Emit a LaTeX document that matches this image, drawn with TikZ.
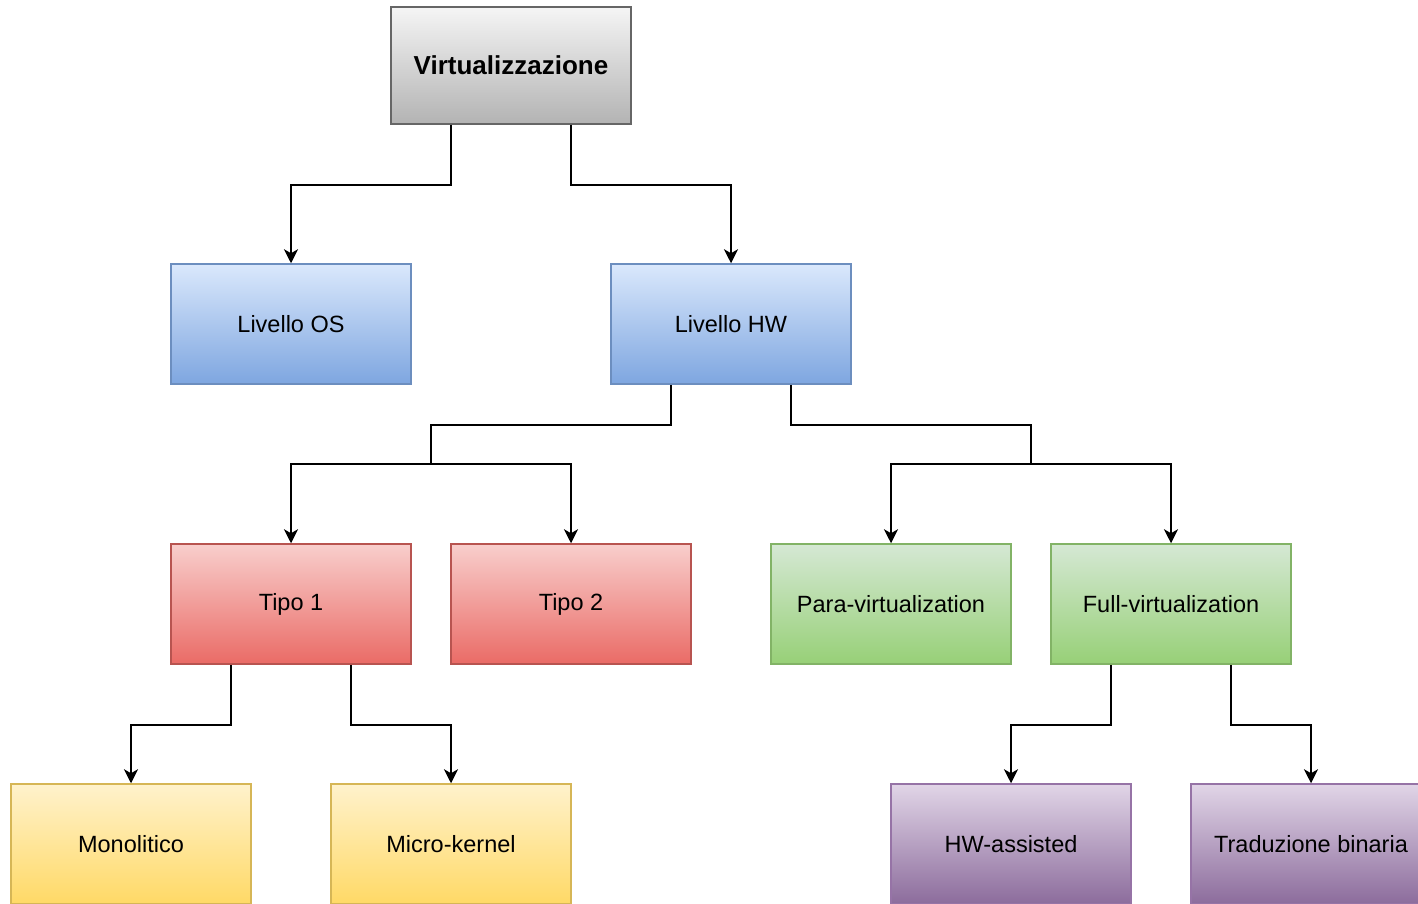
\documentclass[tikz,border=0pt]{standalone}
\usepackage{fontspec}
\setmainfont{Liberation Sans}
\usetikzlibrary{arrows.meta,calc}

\definecolor{grayTop}{HTML}{F5F5F5}
\definecolor{grayBot}{HTML}{B3B3B3}
\definecolor{grayLine}{HTML}{666666}
\definecolor{blueTop}{HTML}{DAE8FC}
\definecolor{blueBot}{HTML}{7EA6E0}
\definecolor{blueLine}{HTML}{6C8EBF}
\definecolor{redTop}{HTML}{F8CECC}
\definecolor{redBot}{HTML}{EA6B66}
\definecolor{redLine}{HTML}{B85450}
\definecolor{greenTop}{HTML}{D5E8D4}
\definecolor{greenBot}{HTML}{97D077}
\definecolor{greenLine}{HTML}{82B366}
\definecolor{yellowTop}{HTML}{FFF2CC}
\definecolor{yellowBot}{HTML}{FFD966}
\definecolor{yellowLine}{HTML}{D6B656}
\definecolor{purpleTop}{HTML}{E1D5E7}
\definecolor{purpleBot}{HTML}{8C6C9C}
\definecolor{purpleLine}{HTML}{9673A6}

\begin{document}
\begin{tikzpicture}[x=0.5pt, y=-0.5pt,
    box/.style={draw, line width=0.75pt, minimum width=120pt, minimum height=60pt,
        inner sep=0pt, font=\fontsize{11.75}{14}\selectfont},
    graybox/.style={box, draw=grayLine, top color=grayTop, bottom color=grayBot},
    bluebox/.style={box, draw=blueLine, top color=blueTop, bottom color=blueBot},
    redbox/.style={box, draw=redLine, top color=redTop, bottom color=redBot},
    greenbox/.style={box, draw=greenLine, top color=greenTop, bottom color=greenBot},
    yellowbox/.style={box, draw=yellowLine, top color=yellowTop, bottom color=yellowBot},
    purplebox/.style={box, draw=purpleLine, top color=purpleTop, bottom color=purpleBot},
    link/.style={line width=1pt, black},
    arr/.style={link, -{Stealth[length=7pt, width=7pt, inset=2pt]}}
]

    \useasboundingbox (0,0) rectangle (1418,904);
    \clip (0,0) rectangle (1418,904);

    % Root
    \node[graybox, minimum height=58.5pt, font=\fontsize{13}{15}\selectfont\bfseries] (virt) at (511,65.5) {Virtualizzazione};

    % Second level
    \node[bluebox] (os) at (291,324) {Livello OS};
    \node[bluebox] (hw) at (731,324) {Livello HW};

    % Third level
    \node[redbox] (t1) at (291,604) {Tipo 1};
    \node[redbox] (t2) at (571,604) {Tipo 2};
    \node[greenbox] (para) at (891,604) {Para-virtualization};
    \node[greenbox] (full) at (1171,604) {Full-virtualization};

    % Fourth level
    \node[yellowbox] (mono) at (131,844) {Monolitico};
    \node[yellowbox] (micro) at (451,844) {Micro-kernel};
    \node[purplebox] (hwa) at (1011,844) {HW-assisted};
    \node[purplebox] (trad) at (1311,844) {Traduzione binaria};

    % Junctions
    \coordinate (hyp) at (431,464);
    \coordinate (virtsw) at (1031,464);

    % Connectors
    \draw[arr] ($(virt.south)+(-60,0)$) -- ++(0,60) -| (os);
    \draw[arr] ($(virt.south)+(60,0)$) -- ++(0,60) -| (hw);

    \draw[link] ($(hw.south)+(-60,0)$) -- ++(0,40) -| (hyp);
    \draw[arr] (hyp) -| (t1);
    \draw[arr] (hyp) -| (t2);

    \draw[link] ($(hw.south)+(60,0)$) -- ++(0,40) -| (virtsw);
    \draw[arr] (virtsw) -| (para);
    \draw[arr] (virtsw) -| (full);

    \draw[arr] ($(t1.south)+(-60,0)$) -- ++(0,60) -| (mono);
    \draw[arr] ($(t1.south)+(60,0)$) -- ++(0,60) -| (micro);

    \draw[arr] ($(full.south)+(-60,0)$) -- ++(0,60) -| (hwa);
    \draw[arr] ($(full.south)+(60,0)$) -- ++(0,60) -| (trad);

\end{tikzpicture}
\end{document}
